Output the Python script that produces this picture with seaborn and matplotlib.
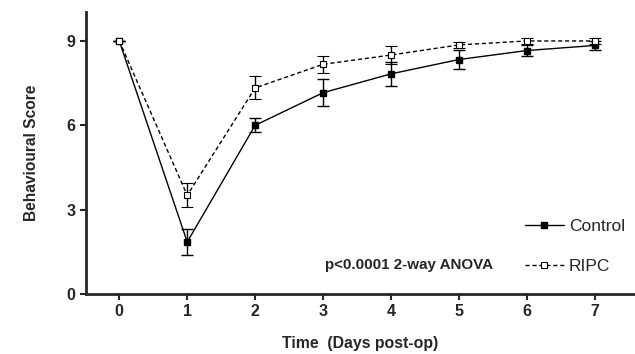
import matplotlib
matplotlib.use("Agg")
import matplotlib.pyplot as plt
import numpy as np
import pandas as pd
import seaborn as sns
from matplotlib.lines import Line2D

# data (mean +/- error)
days = [0, 1, 2, 3, 4, 5, 6, 7]
control_mean = [9.0, 1.85, 6.0, 7.16, 7.83, 8.34, 8.66, 8.84]
control_err = [0.0, 0.47, 0.25, 0.48, 0.43, 0.33, 0.2, 0.15]
ripc_mean = [9.0, 3.51, 7.33, 8.17, 8.5, 8.86, 9.0, 9.0]
ripc_err = [0.0, 0.43, 0.41, 0.3, 0.33, 0.12, 0.1, 0.1]

df = pd.DataFrame({
    "day": days * 2,
    "score": control_mean + ripc_mean,
    "group": ["Control"] * len(days) + ["RIPC"] * len(days),
})

sns.set_style("ticks")
plt.rcParams["font.family"] = ["Liberation Sans", "DejaVu Sans"]

fig = plt.figure(figsize=(6.35, 3.54), dpi=100)
ax = fig.add_axes([0.1354, 0.1695, 0.8646, 0.7966])

sns.lineplot(data=df, x="day", y="score", hue="group", style="group",
             palette=["black", "black"], dashes={"Control": "", "RIPC": (3, 2)},
             markers=False, linewidth=1.0, legend=False, ax=ax, zorder=2)

ax.errorbar(days, control_mean, yerr=control_err, fmt="s", color="black",
            ms=5, capsize=4, elinewidth=1, capthick=1, mfc="black", zorder=3)
ax.errorbar(days, ripc_mean, yerr=ripc_err, fmt="s", color="black",
            ms=5, capsize=4, elinewidth=1, capthick=1, mfc="white", mew=0.8, zorder=4)

ax.set_xlim(-0.49, 7.59)
ax.set_ylim(0, 10.03)
ax.set_xticks(days)
ax.set_yticks([0, 3, 6, 9])
sns.despine(ax=ax)
for s in ("left", "bottom"):
    ax.spines[s].set_linewidth(2)
ax.tick_params(width=1.5, length=4, labelsize=11.5)
for lab in ax.get_xticklabels() + ax.get_yticklabels():
    lab.set_fontweight("bold")

ax.set_xlabel("Time  (Days post-op)", fontsize=11.4, fontweight="bold", labelpad=12)
ax.set_ylabel("Behavioural Score", fontsize=11.2, fontweight="bold", labelpad=20)

ax.text(4.26, 1.03, "p<0.0001 2-way ANOVA", fontsize=10.9, fontweight="bold",
        va="center", ha="center")

handles = [
    Line2D([0], [0], color="black", lw=1, marker="s", ms=4, mfc="black"),
    Line2D([0], [0], color="black", lw=1, ls=(0, (3, 2)), marker="s", ms=4,
           mfc="white", mew=0.8),
]
ax.legend(handles, ["Control", "RIPC"], loc="lower right", bbox_to_anchor=(1.01, 0.015),
          frameon=False, fontsize=12.5, handlelength=2.2, handletextpad=0.3,
          labelspacing=1.45)

fig.savefig("out.png", dpi=100)
